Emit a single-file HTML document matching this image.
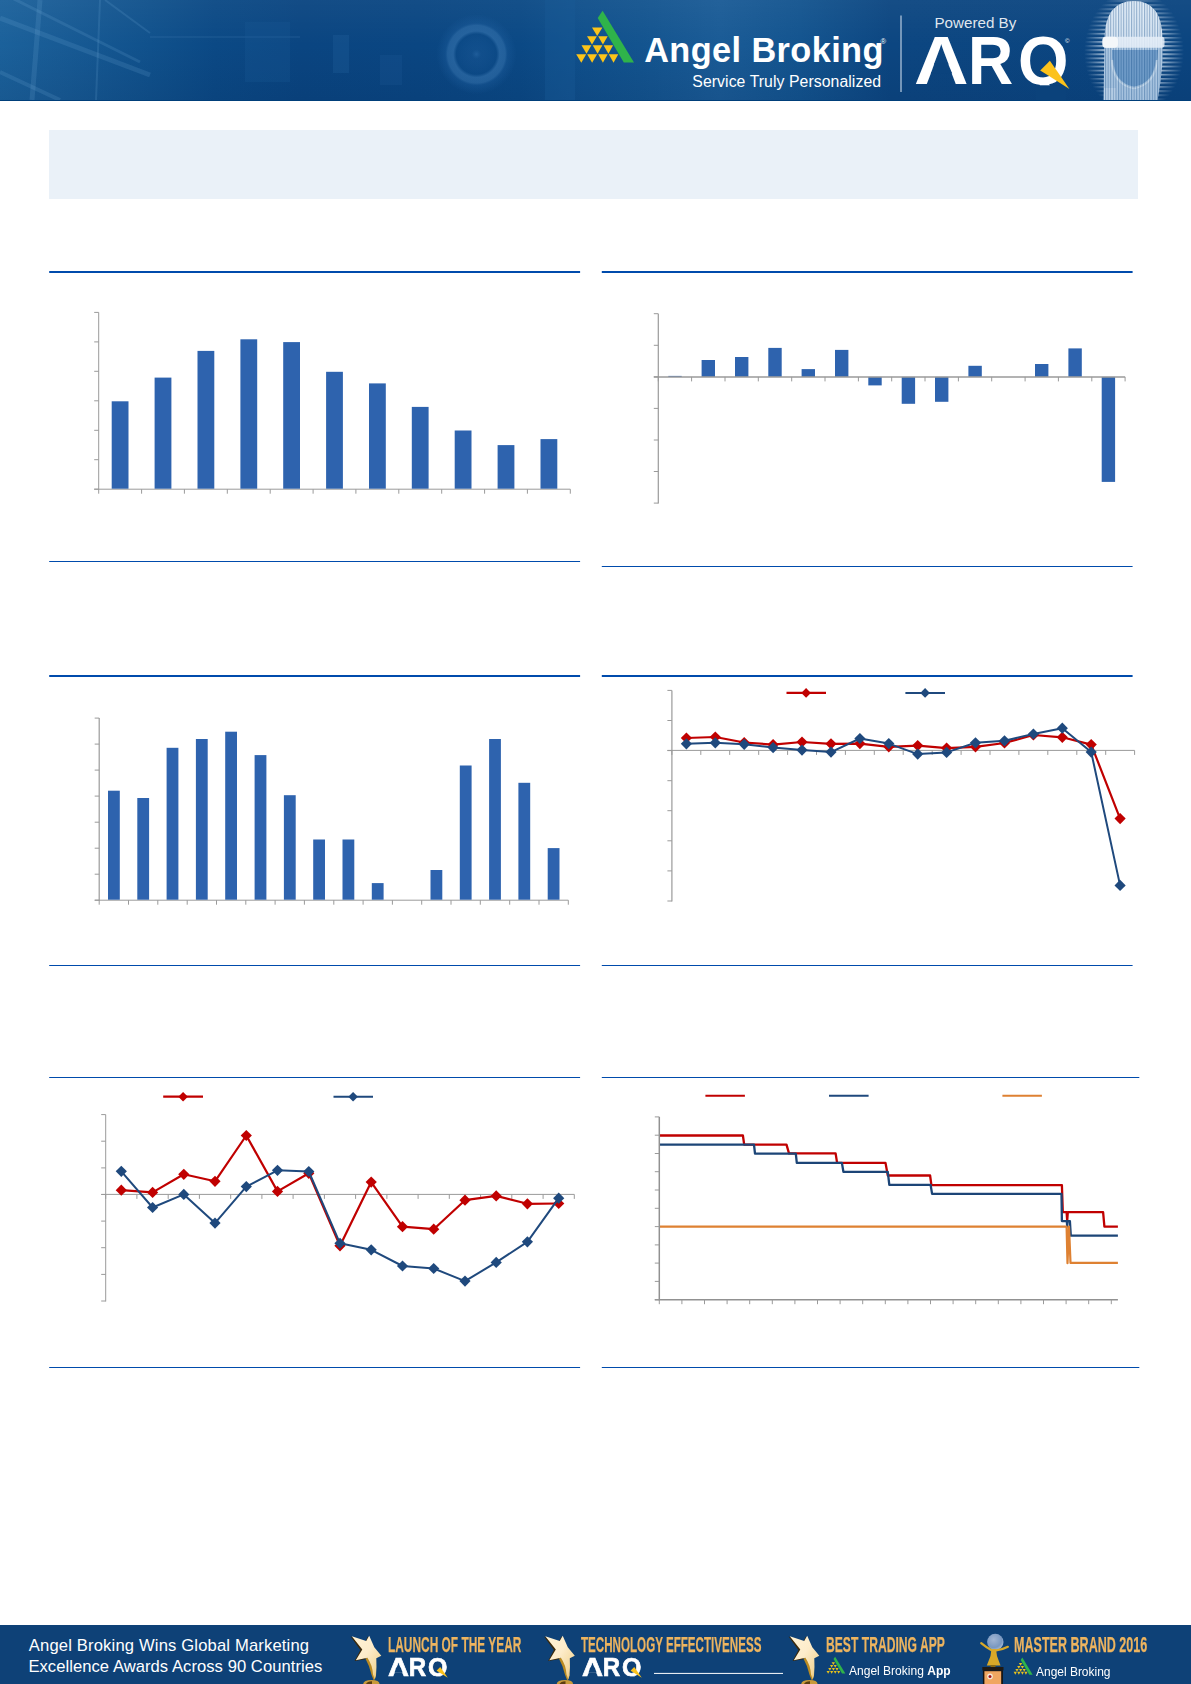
<!DOCTYPE html>
<html lang="en">
<head>
<meta charset="utf-8">
<title>Angel Broking - Powered By ARQ</title>
<style>
html,body{margin:0;padding:0;background:#fff;}
body{width:1191px;height:1684px;position:relative;overflow:hidden;font-family:"Liberation Sans",sans-serif;}
.abs{position:absolute;}
.hdr{left:0;top:0;width:1191px;height:101px;overflow:hidden;
 background:linear-gradient(180deg,rgba(255,255,255,.04) 0,rgba(255,255,255,0) 45%,rgba(0,20,60,.10) 100%),linear-gradient(90deg,#1b619b 0px,#185b95 60px,#10518c 150px,#0b4985 215px,#0a4581 300px,#0a4682 420px,#0b4985 520px,#0f4f8b 570px,#13548f 640px,#1a5b96 720px,#13548f 800px,#0c4681 890px,#0b4580 1191px);border-bottom:1px solid #003f7a;box-sizing:border-box;}
.hdr svg{position:absolute;left:0;top:0;}
.t{position:absolute;white-space:nowrap;color:#fff;line-height:1;transform-origin:0 0;}
.titlebar{left:49px;top:130px;width:1089px;height:69px;background:#EAF1F8;}
.charts{position:absolute;left:0;top:0;}
.ftr{left:0;top:1625px;width:1191px;height:59px;background:#0e4177;overflow:hidden;}
.ftr svg{position:absolute;left:0;top:0;}
.arq{position:absolute;width:170px;height:80px;font-size:67.8px;font-weight:bold;line-height:1;color:#fff;transform-origin:0 0;}
.arq span{position:absolute;top:0;display:block;transform-origin:0 0;}
.arq svg{position:absolute;left:0;top:0;overflow:visible;}
.gold{color:#EDB45F;font-weight:bold;-webkit-text-stroke:.25px #EDB45F;}
</style>
</head>
<body>
<div class="abs hdr">
<svg width="1191" height="101" viewBox="0 0 1191 101">
<defs>
<radialGradient id="lens" cx="476.4" cy="54.2" r="40" gradientUnits="userSpaceOnUse">
<stop offset="0" stop-color="#2f6fae" stop-opacity=".55"/><stop offset=".12" stop-color="#1d5c9c" stop-opacity=".35"/><stop offset=".5" stop-color="#0d4c8a" stop-opacity=".5"/><stop offset=".58" stop-color="#3a78b3" stop-opacity=".55"/><stop offset=".72" stop-color="#3a78b3" stop-opacity=".5"/><stop offset=".78" stop-color="#1f5f9f" stop-opacity=".35"/><stop offset="1" stop-color="#1f5f9f" stop-opacity="0"/>
</radialGradient>
<linearGradient id="headg" x1="0" y1="0" x2="0" y2="1">
<stop offset="0" stop-color="#e6f0fa"/><stop offset=".36" stop-color="#dbe8f5"/><stop offset=".5" stop-color="#b4cde6"/><stop offset="1" stop-color="#a9c5e1"/>
</linearGradient>
<pattern id="vstr" width="2.6" height="4" patternUnits="userSpaceOnUse"><rect x="0" y="0" width="1.1" height="4" fill="#0b4580" fill-opacity=".38"/></pattern>
<pattern id="hstr" width="8" height="4.1" patternUnits="userSpaceOnUse"><rect x="0" y="0" width="8" height="1.9" fill="#e6f0fa" fill-opacity=".7"/></pattern>
<radialGradient id="fade" cx="1134" cy="52" r="1" gradientUnits="userSpaceOnUse" gradientTransform="translate(1134 52) scale(50 62) translate(-1134 -52)">
<stop offset="0" stop-color="#fff"/><stop offset=".62" stop-color="#fff" stop-opacity=".9"/><stop offset="1" stop-color="#fff" stop-opacity="0"/>
</radialGradient>
<mask id="fm"><rect x="1080" y="0" width="111" height="100" fill="url(#fade)"/></mask>
<clipPath id="headc"><path d="M1103.5,101 L1104.5,40 Q1104.5,1 1134,1 Q1162.5,1 1162.5,40 L1162.5,62 Q1161,82 1157.5,101 Z"/></clipPath>
<g id="ablogo">
<polygon points="602.6,10.7 634,62.6 623.8,62.6 597.7,18.1" fill="#2fb34a"/>
<g fill="#fcc419">
<polygon points="592,27.5 602.4,27.5 597.2,35.9"/>
<polygon points="587,36.3 596.9,36.3 592,44.6"/><polygon points="598.2,36.3 607.7,36.3 602.9,44.6"/>
<polygon points="581.5,45.2 591.4,45.2 586.5,53.7"/><polygon points="592.7,45.2 602.4,45.2 597.6,53.7"/><polygon points="603.6,45.2 613.1,45.2 608.4,53.7"/>
<polygon points="576.2,54.2 586.2,54.2 581.3,62.8"/><polygon points="587.2,54.2 597.1,54.2 592.1,62.8"/><polygon points="598.2,54.2 607.7,54.2 602.9,62.8"/><polygon points="608.8,54.2 618.3,54.2 613.5,62.8"/>
</g>
</g>
</defs>
<!-- left grid glow -->
<g stroke="#7fb2de" stroke-opacity=".16" fill="none">
<path d="M0,18 L150,75" stroke-width="5"/><path d="M0,-8 L140,62" stroke-width="3"/><path d="M105,0 L150,33" stroke-width="2"/>
<path d="M40,0 L32,100" stroke-width="5"/><path d="M100,0 L96,100" stroke-width="2"/><path d="M0,72 L60,100" stroke-width="4"/>
<path d="M150,37 L300,37" stroke-width="1.5" stroke-opacity=".12"/>
</g>
<rect x="245" y="22" width="45" height="60" fill="#1a5a98" fill-opacity=".25"/>
<rect x="333" y="35" width="16" height="38" fill="#2766a3" fill-opacity=".25"/>
<rect x="380" y="55" width="22" height="30" fill="#2766a3" fill-opacity=".18"/>
<circle cx="476.4" cy="54.2" r="40" fill="url(#lens)"/>
<rect x="545" y="0" width="30" height="100" fill="#1a5b99" fill-opacity=".35"/>
<!-- logo -->
<use href="#ablogo"/>
<!-- divider -->
<rect x="900.2" y="15.5" width="1.6" height="76.5" fill="#8eabc9"/>
<!-- face -->
<g mask="url(#fm)"><rect x="1084" y="0" width="100" height="101" fill="url(#hstr)"/></g>
<g clip-path="url(#headc)">
<rect x="1100" y="0" width="70" height="101" fill="url(#headg)"/>
<path d="M1112,50 Q1111,84 1134,88 Q1157,84 1158,50 Z" fill="#3f7ab4" fill-opacity=".55"/>
<path d="M1112,60 Q1113,84 1134,88 Q1155,84 1157,60" fill="none" stroke="#e4eef8" stroke-opacity=".55" stroke-width="2.5"/>
<rect x="1104" y="88" width="12" height="13" fill="#e4eef8" fill-opacity=".35"/>
<rect x="1100" y="0" width="70" height="101" fill="url(#vstr)"/>
</g>
<rect x="1102.5" y="36.8" width="62" height="11" rx="3" fill="#e6eff8" fill-opacity=".85"/>
<rect x="1102.5" y="36.8" width="15.5" height="11" rx="4" fill="#f4f7fa"/>
</svg>

<div class="t" id="ab" style="left:644.2px;top:32.9px;font-size:34.3px;font-weight:bold;letter-spacing:.4px;">Angel Broking</div>
<div class="t" id="abr" style="left:880.5px;top:37.5px;font-size:7.5px;">®</div>
<div class="t" id="stp" style="left:692.3px;top:74.1px;font-size:15.8px;letter-spacing:.07px;">Service Truly Personalized</div>
<div class="t" id="pb" style="left:934.4px;top:15.3px;font-size:15.2px;color:rgba(255,255,255,.88);">Powered By</div>
<div class="arq" id="arq" style="left:914.1px;top:26.9px;"><span style="left:0;transform:scaleX(1.114);">A</span><span style="left:53.8px;transform:scaleX(.923);">R</span><span style="left:103.8px;transform:scaleX(.957);">Q</span><svg width="170" height="80" viewBox="0 0 170 80"><polygon points="20.4,36.4 34,36.4 38.2,46.6 16.8,46.6" fill="#0b437d"/><rect x="122" y="58.3" width="30" height="15" fill="#0b427b"/><polygon points="135.9,33.7 126.2,43.4 131.9,47.1 155.4,62" fill="#fcc21b"/></svg></div>
<div class="t" id="arqr" style="left:1065px;top:38px;font-size:6px;">©</div>
</div>
<div class="abs titlebar"></div>
<svg class="charts" width="1191" height="1684" viewBox="0 0 1191 1684">
<line x1="49.2" y1="272" x2="580.1" y2="272" stroke="#004BAC" stroke-width="2"/>
<line x1="49.2" y1="561.5" x2="580.1" y2="561.5" stroke="#004BAC" stroke-width="1"/>
<line x1="601.8" y1="272" x2="1132.6" y2="272" stroke="#004BAC" stroke-width="2"/>
<line x1="601.8" y1="566.5" x2="1132.6" y2="566.5" stroke="#004BAC" stroke-width="1"/>
<line x1="49.2" y1="676" x2="580.1" y2="676" stroke="#004BAC" stroke-width="2"/>
<line x1="49.2" y1="965.5" x2="580.1" y2="965.5" stroke="#004BAC" stroke-width="1"/>
<line x1="601.8" y1="676" x2="1132.6" y2="676" stroke="#004BAC" stroke-width="2"/>
<line x1="601.8" y1="965.5" x2="1132.6" y2="965.5" stroke="#004BAC" stroke-width="1"/>
<line x1="49.2" y1="1077.5" x2="580.1" y2="1077.5" stroke="#004BAC" stroke-width="1"/>
<line x1="49.2" y1="1367.5" x2="580.1" y2="1367.5" stroke="#004BAC" stroke-width="1"/>
<line x1="601.8" y1="1077.5" x2="1139.3" y2="1077.5" stroke="#004BAC" stroke-width="1"/>
<line x1="601.8" y1="1367.5" x2="1139.3" y2="1367.5" stroke="#004BAC" stroke-width="1"/>
<line x1="98.7" y1="312.4" x2="98.7" y2="489.7" stroke="#9a9a9a" stroke-width="1"/>
<line x1="94.2" y1="489.2" x2="570.3" y2="489.2" stroke="#9a9a9a" stroke-width="1"/>
<line x1="94.2" y1="312.4" x2="98.7" y2="312.4" stroke="#9a9a9a" stroke-width="1"/>
<line x1="94.2" y1="341.9" x2="98.7" y2="341.9" stroke="#9a9a9a" stroke-width="1"/>
<line x1="94.2" y1="371.3" x2="98.7" y2="371.3" stroke="#9a9a9a" stroke-width="1"/>
<line x1="94.2" y1="400.8" x2="98.7" y2="400.8" stroke="#9a9a9a" stroke-width="1"/>
<line x1="94.2" y1="430.3" x2="98.7" y2="430.3" stroke="#9a9a9a" stroke-width="1"/>
<line x1="94.2" y1="459.7" x2="98.7" y2="459.7" stroke="#9a9a9a" stroke-width="1"/>
<line x1="94.2" y1="489.2" x2="98.7" y2="489.2" stroke="#9a9a9a" stroke-width="1"/>
<line x1="98.7" y1="489.2" x2="98.7" y2="493.7" stroke="#9a9a9a" stroke-width="1"/>
<line x1="141.6" y1="489.2" x2="141.6" y2="493.7" stroke="#9a9a9a" stroke-width="1"/>
<line x1="184.4" y1="489.2" x2="184.4" y2="493.7" stroke="#9a9a9a" stroke-width="1"/>
<line x1="227.3" y1="489.2" x2="227.3" y2="493.7" stroke="#9a9a9a" stroke-width="1"/>
<line x1="270.2" y1="489.2" x2="270.2" y2="493.7" stroke="#9a9a9a" stroke-width="1"/>
<line x1="313.1" y1="489.2" x2="313.1" y2="493.7" stroke="#9a9a9a" stroke-width="1"/>
<line x1="355.9" y1="489.2" x2="355.9" y2="493.7" stroke="#9a9a9a" stroke-width="1"/>
<line x1="398.8" y1="489.2" x2="398.8" y2="493.7" stroke="#9a9a9a" stroke-width="1"/>
<line x1="441.7" y1="489.2" x2="441.7" y2="493.7" stroke="#9a9a9a" stroke-width="1"/>
<line x1="484.6" y1="489.2" x2="484.6" y2="493.7" stroke="#9a9a9a" stroke-width="1"/>
<line x1="527.4" y1="489.2" x2="527.4" y2="493.7" stroke="#9a9a9a" stroke-width="1"/>
<line x1="570.3" y1="489.2" x2="570.3" y2="493.7" stroke="#9a9a9a" stroke-width="1"/>
<rect x="111.7" y="401.3" width="16.8" height="87.4" fill="#2E63AE"/>
<rect x="154.6" y="377.6" width="16.8" height="111.1" fill="#2E63AE"/>
<rect x="197.5" y="350.9" width="16.8" height="137.8" fill="#2E63AE"/>
<rect x="240.4" y="339.3" width="16.8" height="149.4" fill="#2E63AE"/>
<rect x="283.2" y="342.1" width="16.8" height="146.6" fill="#2E63AE"/>
<rect x="326.1" y="371.8" width="16.8" height="116.9" fill="#2E63AE"/>
<rect x="369.0" y="383.4" width="16.8" height="105.3" fill="#2E63AE"/>
<rect x="411.8" y="406.9" width="16.8" height="81.8" fill="#2E63AE"/>
<rect x="454.7" y="430.5" width="16.8" height="58.2" fill="#2E63AE"/>
<rect x="497.6" y="445.1" width="16.8" height="43.6" fill="#2E63AE"/>
<rect x="540.5" y="439.1" width="16.8" height="49.6" fill="#2E63AE"/>
<rect x="668.3" y="375.9" width="13.4" height="1.0" fill="#2E63AE"/>
<rect x="701.6" y="360.0" width="13.4" height="16.9" fill="#2E63AE"/>
<rect x="735.0" y="357.0" width="13.4" height="19.9" fill="#2E63AE"/>
<rect x="768.3" y="347.9" width="13.4" height="29.0" fill="#2E63AE"/>
<rect x="801.6" y="369.1" width="13.4" height="7.8" fill="#2E63AE"/>
<rect x="835.0" y="349.9" width="13.4" height="27.0" fill="#2E63AE"/>
<rect x="868.3" y="376.9" width="13.4" height="8.5" fill="#2E63AE"/>
<rect x="901.7" y="376.9" width="13.4" height="26.9" fill="#2E63AE"/>
<rect x="935.0" y="376.9" width="13.4" height="24.9" fill="#2E63AE"/>
<rect x="968.4" y="365.8" width="13.4" height="11.1" fill="#2E63AE"/>
<rect x="1035.0" y="364.0" width="13.4" height="12.9" fill="#2E63AE"/>
<rect x="1068.4" y="348.4" width="13.4" height="28.5" fill="#2E63AE"/>
<rect x="1101.7" y="376.9" width="13.4" height="105.0" fill="#2E63AE"/>
<line x1="658.3" y1="313.7" x2="658.3" y2="503.6" stroke="#9a9a9a" stroke-width="1.2"/>
<line x1="653.8" y1="376.9" x2="1125.1" y2="376.9" stroke="#9a9a9a" stroke-width="1.5"/>
<line x1="653.8" y1="313.7" x2="658.3" y2="313.7" stroke="#9a9a9a" stroke-width="1"/>
<line x1="653.8" y1="345.3" x2="658.3" y2="345.3" stroke="#9a9a9a" stroke-width="1"/>
<line x1="653.8" y1="376.8" x2="658.3" y2="376.8" stroke="#9a9a9a" stroke-width="1"/>
<line x1="653.8" y1="408.4" x2="658.3" y2="408.4" stroke="#9a9a9a" stroke-width="1"/>
<line x1="653.8" y1="440.0" x2="658.3" y2="440.0" stroke="#9a9a9a" stroke-width="1"/>
<line x1="653.8" y1="471.5" x2="658.3" y2="471.5" stroke="#9a9a9a" stroke-width="1"/>
<line x1="653.8" y1="503.1" x2="658.3" y2="503.1" stroke="#9a9a9a" stroke-width="1"/>
<line x1="658.3" y1="376.9" x2="658.3" y2="381.4" stroke="#9a9a9a" stroke-width="1"/>
<line x1="691.6" y1="376.9" x2="691.6" y2="381.4" stroke="#9a9a9a" stroke-width="1"/>
<line x1="725.0" y1="376.9" x2="725.0" y2="381.4" stroke="#9a9a9a" stroke-width="1"/>
<line x1="758.3" y1="376.9" x2="758.3" y2="381.4" stroke="#9a9a9a" stroke-width="1"/>
<line x1="791.7" y1="376.9" x2="791.7" y2="381.4" stroke="#9a9a9a" stroke-width="1"/>
<line x1="825.0" y1="376.9" x2="825.0" y2="381.4" stroke="#9a9a9a" stroke-width="1"/>
<line x1="858.4" y1="376.9" x2="858.4" y2="381.4" stroke="#9a9a9a" stroke-width="1"/>
<line x1="891.7" y1="376.9" x2="891.7" y2="381.4" stroke="#9a9a9a" stroke-width="1"/>
<line x1="925.0" y1="376.9" x2="925.0" y2="381.4" stroke="#9a9a9a" stroke-width="1"/>
<line x1="958.4" y1="376.9" x2="958.4" y2="381.4" stroke="#9a9a9a" stroke-width="1"/>
<line x1="991.7" y1="376.9" x2="991.7" y2="381.4" stroke="#9a9a9a" stroke-width="1"/>
<line x1="1025.1" y1="376.9" x2="1025.1" y2="381.4" stroke="#9a9a9a" stroke-width="1"/>
<line x1="1058.4" y1="376.9" x2="1058.4" y2="381.4" stroke="#9a9a9a" stroke-width="1"/>
<line x1="1091.8" y1="376.9" x2="1091.8" y2="381.4" stroke="#9a9a9a" stroke-width="1"/>
<line x1="1125.1" y1="376.9" x2="1125.1" y2="381.4" stroke="#9a9a9a" stroke-width="1"/>
<line x1="99.2" y1="718.1" x2="99.2" y2="900.7" stroke="#9a9a9a" stroke-width="1.2"/>
<line x1="94.7" y1="900.2" x2="568.3" y2="900.2" stroke="#9a9a9a" stroke-width="1"/>
<line x1="94.7" y1="718.1" x2="99.2" y2="718.1" stroke="#9a9a9a" stroke-width="1"/>
<line x1="94.7" y1="744.1" x2="99.2" y2="744.1" stroke="#9a9a9a" stroke-width="1"/>
<line x1="94.7" y1="770.1" x2="99.2" y2="770.1" stroke="#9a9a9a" stroke-width="1"/>
<line x1="94.7" y1="796.1" x2="99.2" y2="796.1" stroke="#9a9a9a" stroke-width="1"/>
<line x1="94.7" y1="822.2" x2="99.2" y2="822.2" stroke="#9a9a9a" stroke-width="1"/>
<line x1="94.7" y1="848.2" x2="99.2" y2="848.2" stroke="#9a9a9a" stroke-width="1"/>
<line x1="94.7" y1="874.2" x2="99.2" y2="874.2" stroke="#9a9a9a" stroke-width="1"/>
<line x1="94.7" y1="900.2" x2="99.2" y2="900.2" stroke="#9a9a9a" stroke-width="1"/>
<line x1="99.2" y1="900.2" x2="99.2" y2="904.7" stroke="#9a9a9a" stroke-width="1"/>
<line x1="128.5" y1="900.2" x2="128.5" y2="904.7" stroke="#9a9a9a" stroke-width="1"/>
<line x1="157.8" y1="900.2" x2="157.8" y2="904.7" stroke="#9a9a9a" stroke-width="1"/>
<line x1="187.2" y1="900.2" x2="187.2" y2="904.7" stroke="#9a9a9a" stroke-width="1"/>
<line x1="216.5" y1="900.2" x2="216.5" y2="904.7" stroke="#9a9a9a" stroke-width="1"/>
<line x1="245.8" y1="900.2" x2="245.8" y2="904.7" stroke="#9a9a9a" stroke-width="1"/>
<line x1="275.1" y1="900.2" x2="275.1" y2="904.7" stroke="#9a9a9a" stroke-width="1"/>
<line x1="304.4" y1="900.2" x2="304.4" y2="904.7" stroke="#9a9a9a" stroke-width="1"/>
<line x1="333.8" y1="900.2" x2="333.8" y2="904.7" stroke="#9a9a9a" stroke-width="1"/>
<line x1="363.1" y1="900.2" x2="363.1" y2="904.7" stroke="#9a9a9a" stroke-width="1"/>
<line x1="392.4" y1="900.2" x2="392.4" y2="904.7" stroke="#9a9a9a" stroke-width="1"/>
<line x1="421.7" y1="900.2" x2="421.7" y2="904.7" stroke="#9a9a9a" stroke-width="1"/>
<line x1="451.0" y1="900.2" x2="451.0" y2="904.7" stroke="#9a9a9a" stroke-width="1"/>
<line x1="480.3" y1="900.2" x2="480.3" y2="904.7" stroke="#9a9a9a" stroke-width="1"/>
<line x1="509.7" y1="900.2" x2="509.7" y2="904.7" stroke="#9a9a9a" stroke-width="1"/>
<line x1="539.0" y1="900.2" x2="539.0" y2="904.7" stroke="#9a9a9a" stroke-width="1"/>
<line x1="568.3" y1="900.2" x2="568.3" y2="904.7" stroke="#9a9a9a" stroke-width="1"/>
<rect x="108.0" y="790.7" width="11.8" height="109.0" fill="#2E63AE"/>
<rect x="137.3" y="798.0" width="11.8" height="101.7" fill="#2E63AE"/>
<rect x="166.6" y="747.8" width="11.8" height="151.9" fill="#2E63AE"/>
<rect x="195.9" y="739.0" width="11.8" height="160.7" fill="#2E63AE"/>
<rect x="225.2" y="731.7" width="11.8" height="168.0" fill="#2E63AE"/>
<rect x="254.6" y="755.1" width="11.8" height="144.6" fill="#2E63AE"/>
<rect x="283.9" y="795.2" width="11.8" height="104.5" fill="#2E63AE"/>
<rect x="313.2" y="839.5" width="11.8" height="60.2" fill="#2E63AE"/>
<rect x="342.5" y="839.5" width="11.8" height="60.2" fill="#2E63AE"/>
<rect x="371.8" y="883.1" width="11.8" height="16.6" fill="#2E63AE"/>
<rect x="430.5" y="870.0" width="11.8" height="29.7" fill="#2E63AE"/>
<rect x="459.8" y="765.5" width="11.8" height="134.2" fill="#2E63AE"/>
<rect x="489.1" y="739.0" width="11.8" height="160.7" fill="#2E63AE"/>
<rect x="518.4" y="782.8" width="11.8" height="116.9" fill="#2E63AE"/>
<rect x="547.7" y="848.1" width="11.8" height="51.6" fill="#2E63AE"/>
<line x1="671.9" y1="690.4" x2="671.9" y2="901.5" stroke="#9a9a9a" stroke-width="1.2"/>
<line x1="667.4" y1="750.4" x2="1134.6" y2="750.4" stroke="#9a9a9a" stroke-width="1"/>
<line x1="667.4" y1="690.4" x2="671.9" y2="690.4" stroke="#9a9a9a" stroke-width="1"/>
<line x1="667.4" y1="720.5" x2="671.9" y2="720.5" stroke="#9a9a9a" stroke-width="1"/>
<line x1="667.4" y1="750.6" x2="671.9" y2="750.6" stroke="#9a9a9a" stroke-width="1"/>
<line x1="667.4" y1="780.7" x2="671.9" y2="780.7" stroke="#9a9a9a" stroke-width="1"/>
<line x1="667.4" y1="810.7" x2="671.9" y2="810.7" stroke="#9a9a9a" stroke-width="1"/>
<line x1="667.4" y1="840.8" x2="671.9" y2="840.8" stroke="#9a9a9a" stroke-width="1"/>
<line x1="667.4" y1="870.9" x2="671.9" y2="870.9" stroke="#9a9a9a" stroke-width="1"/>
<line x1="667.4" y1="901.0" x2="671.9" y2="901.0" stroke="#9a9a9a" stroke-width="1"/>
<line x1="671.9" y1="750.4" x2="671.9" y2="754.9" stroke="#9a9a9a" stroke-width="1"/>
<line x1="700.8" y1="750.4" x2="700.8" y2="754.9" stroke="#9a9a9a" stroke-width="1"/>
<line x1="729.7" y1="750.4" x2="729.7" y2="754.9" stroke="#9a9a9a" stroke-width="1"/>
<line x1="758.7" y1="750.4" x2="758.7" y2="754.9" stroke="#9a9a9a" stroke-width="1"/>
<line x1="787.6" y1="750.4" x2="787.6" y2="754.9" stroke="#9a9a9a" stroke-width="1"/>
<line x1="816.5" y1="750.4" x2="816.5" y2="754.9" stroke="#9a9a9a" stroke-width="1"/>
<line x1="845.4" y1="750.4" x2="845.4" y2="754.9" stroke="#9a9a9a" stroke-width="1"/>
<line x1="874.3" y1="750.4" x2="874.3" y2="754.9" stroke="#9a9a9a" stroke-width="1"/>
<line x1="903.2" y1="750.4" x2="903.2" y2="754.9" stroke="#9a9a9a" stroke-width="1"/>
<line x1="932.2" y1="750.4" x2="932.2" y2="754.9" stroke="#9a9a9a" stroke-width="1"/>
<line x1="961.1" y1="750.4" x2="961.1" y2="754.9" stroke="#9a9a9a" stroke-width="1"/>
<line x1="990.0" y1="750.4" x2="990.0" y2="754.9" stroke="#9a9a9a" stroke-width="1"/>
<line x1="1018.9" y1="750.4" x2="1018.9" y2="754.9" stroke="#9a9a9a" stroke-width="1"/>
<line x1="1047.8" y1="750.4" x2="1047.8" y2="754.9" stroke="#9a9a9a" stroke-width="1"/>
<line x1="1076.8" y1="750.4" x2="1076.8" y2="754.9" stroke="#9a9a9a" stroke-width="1"/>
<line x1="1105.7" y1="750.4" x2="1105.7" y2="754.9" stroke="#9a9a9a" stroke-width="1"/>
<line x1="1134.6" y1="750.4" x2="1134.6" y2="754.9" stroke="#9a9a9a" stroke-width="1"/>
<polyline points="686.4,738.0 715.3,737.0 744.2,742.5 773.1,744.6 802.0,742.0 831.0,743.8 859.9,743.6 888.8,746.8 917.7,745.6 946.6,748.1 975.5,746.8 1004.5,743.0 1033.4,735.0 1062.3,737.3 1091.2,744.6 1120.1,818.6" fill="none" stroke="#C00000" stroke-width="2.2" stroke-linejoin="round"/>
<polygon points="686.4,732.4 692.0,738.0 686.4,743.6 680.8,738.0" fill="#C00000"/>
<polygon points="715.3,731.4 720.9,737.0 715.3,742.6 709.7,737.0" fill="#C00000"/>
<polygon points="744.2,736.9 749.8,742.5 744.2,748.1 738.6,742.5" fill="#C00000"/>
<polygon points="773.1,739.0 778.7,744.6 773.1,750.2 767.5,744.6" fill="#C00000"/>
<polygon points="802.0,736.4 807.6,742.0 802.0,747.6 796.4,742.0" fill="#C00000"/>
<polygon points="831.0,738.2 836.6,743.8 831.0,749.4 825.4,743.8" fill="#C00000"/>
<polygon points="859.9,738.0 865.5,743.6 859.9,749.2 854.3,743.6" fill="#C00000"/>
<polygon points="888.8,741.2 894.4,746.8 888.8,752.4 883.2,746.8" fill="#C00000"/>
<polygon points="917.7,740.0 923.3,745.6 917.7,751.2 912.1,745.6" fill="#C00000"/>
<polygon points="946.6,742.5 952.2,748.1 946.6,753.7 941.0,748.1" fill="#C00000"/>
<polygon points="975.5,741.2 981.1,746.8 975.5,752.4 969.9,746.8" fill="#C00000"/>
<polygon points="1004.5,737.4 1010.1,743.0 1004.5,748.6 998.9,743.0" fill="#C00000"/>
<polygon points="1033.4,729.4 1039.0,735.0 1033.4,740.6 1027.8,735.0" fill="#C00000"/>
<polygon points="1062.3,731.7 1067.9,737.3 1062.3,742.9 1056.7,737.3" fill="#C00000"/>
<polygon points="1091.2,739.0 1096.8,744.6 1091.2,750.2 1085.6,744.6" fill="#C00000"/>
<polygon points="1120.1,813.0 1125.7,818.6 1120.1,824.2 1114.5,818.6" fill="#C00000"/>
<polyline points="686.4,743.8 715.3,742.8 744.2,744.3 773.1,747.6 802.0,750.1 831.0,752.1 859.9,738.5 888.8,743.6 917.7,754.1 946.6,752.4 975.5,742.8 1004.5,740.8 1033.4,734.0 1062.3,728.2 1091.2,752.1 1120.1,885.4" fill="none" stroke="#1F497D" stroke-width="2" stroke-linejoin="round"/>
<polygon points="686.4,738.2 692.0,743.8 686.4,749.4 680.8,743.8" fill="#1F497D"/>
<polygon points="715.3,737.2 720.9,742.8 715.3,748.4 709.7,742.8" fill="#1F497D"/>
<polygon points="744.2,738.7 749.8,744.3 744.2,749.9 738.6,744.3" fill="#1F497D"/>
<polygon points="773.1,742.0 778.7,747.6 773.1,753.2 767.5,747.6" fill="#1F497D"/>
<polygon points="802.0,744.5 807.6,750.1 802.0,755.7 796.4,750.1" fill="#1F497D"/>
<polygon points="831.0,746.5 836.6,752.1 831.0,757.7 825.4,752.1" fill="#1F497D"/>
<polygon points="859.9,732.9 865.5,738.5 859.9,744.1 854.3,738.5" fill="#1F497D"/>
<polygon points="888.8,738.0 894.4,743.6 888.8,749.2 883.2,743.6" fill="#1F497D"/>
<polygon points="917.7,748.5 923.3,754.1 917.7,759.7 912.1,754.1" fill="#1F497D"/>
<polygon points="946.6,746.8 952.2,752.4 946.6,758.0 941.0,752.4" fill="#1F497D"/>
<polygon points="975.5,737.2 981.1,742.8 975.5,748.4 969.9,742.8" fill="#1F497D"/>
<polygon points="1004.5,735.2 1010.1,740.8 1004.5,746.4 998.9,740.8" fill="#1F497D"/>
<polygon points="1033.4,728.4 1039.0,734.0 1033.4,739.6 1027.8,734.0" fill="#1F497D"/>
<polygon points="1062.3,722.6 1067.9,728.2 1062.3,733.8 1056.7,728.2" fill="#1F497D"/>
<polygon points="1091.2,746.5 1096.8,752.1 1091.2,757.7 1085.6,752.1" fill="#1F497D"/>
<polygon points="1120.1,879.8 1125.7,885.4 1120.1,891.0 1114.5,885.4" fill="#1F497D"/>
<line x1="786.5" y1="692.9" x2="826.0" y2="692.9" stroke="#C00000" stroke-width="2.2"/>
<polygon points="806.1,688.1 810.9,692.9 806.1,697.7 801.3,692.9" fill="#C00000"/>
<line x1="905.4" y1="692.9" x2="945.0" y2="692.9" stroke="#1F497D" stroke-width="2"/>
<polygon points="925.1,688.1 929.9,692.9 925.1,697.7 920.3,692.9" fill="#1F497D"/>
<line x1="105.7" y1="1114.6" x2="105.7" y2="1301.5" stroke="#9a9a9a" stroke-width="1"/>
<line x1="101.2" y1="1194.4" x2="574.3" y2="1194.4" stroke="#9a9a9a" stroke-width="1"/>
<line x1="101.2" y1="1114.6" x2="105.7" y2="1114.6" stroke="#9a9a9a" stroke-width="1"/>
<line x1="101.2" y1="1141.2" x2="105.7" y2="1141.2" stroke="#9a9a9a" stroke-width="1"/>
<line x1="101.2" y1="1167.9" x2="105.7" y2="1167.9" stroke="#9a9a9a" stroke-width="1"/>
<line x1="101.2" y1="1194.5" x2="105.7" y2="1194.5" stroke="#9a9a9a" stroke-width="1"/>
<line x1="101.2" y1="1221.1" x2="105.7" y2="1221.1" stroke="#9a9a9a" stroke-width="1"/>
<line x1="101.2" y1="1247.7" x2="105.7" y2="1247.7" stroke="#9a9a9a" stroke-width="1"/>
<line x1="101.2" y1="1274.4" x2="105.7" y2="1274.4" stroke="#9a9a9a" stroke-width="1"/>
<line x1="101.2" y1="1301.0" x2="105.7" y2="1301.0" stroke="#9a9a9a" stroke-width="1"/>
<line x1="105.7" y1="1194.4" x2="105.7" y2="1198.9" stroke="#9a9a9a" stroke-width="1"/>
<line x1="136.9" y1="1194.4" x2="136.9" y2="1198.9" stroke="#9a9a9a" stroke-width="1"/>
<line x1="168.2" y1="1194.4" x2="168.2" y2="1198.9" stroke="#9a9a9a" stroke-width="1"/>
<line x1="199.4" y1="1194.4" x2="199.4" y2="1198.9" stroke="#9a9a9a" stroke-width="1"/>
<line x1="230.7" y1="1194.4" x2="230.7" y2="1198.9" stroke="#9a9a9a" stroke-width="1"/>
<line x1="261.9" y1="1194.4" x2="261.9" y2="1198.9" stroke="#9a9a9a" stroke-width="1"/>
<line x1="293.1" y1="1194.4" x2="293.1" y2="1198.9" stroke="#9a9a9a" stroke-width="1"/>
<line x1="324.4" y1="1194.4" x2="324.4" y2="1198.9" stroke="#9a9a9a" stroke-width="1"/>
<line x1="355.6" y1="1194.4" x2="355.6" y2="1198.9" stroke="#9a9a9a" stroke-width="1"/>
<line x1="386.9" y1="1194.4" x2="386.9" y2="1198.9" stroke="#9a9a9a" stroke-width="1"/>
<line x1="418.1" y1="1194.4" x2="418.1" y2="1198.9" stroke="#9a9a9a" stroke-width="1"/>
<line x1="449.3" y1="1194.4" x2="449.3" y2="1198.9" stroke="#9a9a9a" stroke-width="1"/>
<line x1="480.6" y1="1194.4" x2="480.6" y2="1198.9" stroke="#9a9a9a" stroke-width="1"/>
<line x1="511.8" y1="1194.4" x2="511.8" y2="1198.9" stroke="#9a9a9a" stroke-width="1"/>
<line x1="543.1" y1="1194.4" x2="543.1" y2="1198.9" stroke="#9a9a9a" stroke-width="1"/>
<line x1="574.3" y1="1194.4" x2="574.3" y2="1198.9" stroke="#9a9a9a" stroke-width="1"/>
<polyline points="121.3,1190.2 152.6,1192.4 183.8,1174.3 215.0,1181.3 246.3,1135.5 277.5,1191.4 308.8,1173.3 340.0,1245.8 371.2,1182.1 402.5,1226.7 433.7,1229.2 465.0,1200.2 496.2,1195.9 527.4,1203.8 558.7,1203.5" fill="none" stroke="#C00000" stroke-width="2.2" stroke-linejoin="round"/>
<polygon points="121.3,1184.6 126.9,1190.2 121.3,1195.8 115.7,1190.2" fill="#C00000"/>
<polygon points="152.6,1186.8 158.2,1192.4 152.6,1198.0 147.0,1192.4" fill="#C00000"/>
<polygon points="183.8,1168.7 189.4,1174.3 183.8,1179.9 178.2,1174.3" fill="#C00000"/>
<polygon points="215.0,1175.7 220.6,1181.3 215.0,1186.9 209.4,1181.3" fill="#C00000"/>
<polygon points="246.3,1129.9 251.9,1135.5 246.3,1141.1 240.7,1135.5" fill="#C00000"/>
<polygon points="277.5,1185.8 283.1,1191.4 277.5,1197.0 271.9,1191.4" fill="#C00000"/>
<polygon points="308.8,1167.7 314.4,1173.3 308.8,1178.9 303.2,1173.3" fill="#C00000"/>
<polygon points="340.0,1240.2 345.6,1245.8 340.0,1251.4 334.4,1245.8" fill="#C00000"/>
<polygon points="371.2,1176.5 376.8,1182.1 371.2,1187.7 365.6,1182.1" fill="#C00000"/>
<polygon points="402.5,1221.1 408.1,1226.7 402.5,1232.3 396.9,1226.7" fill="#C00000"/>
<polygon points="433.7,1223.6 439.3,1229.2 433.7,1234.8 428.1,1229.2" fill="#C00000"/>
<polygon points="465.0,1194.6 470.6,1200.2 465.0,1205.8 459.4,1200.2" fill="#C00000"/>
<polygon points="496.2,1190.3 501.8,1195.9 496.2,1201.5 490.6,1195.9" fill="#C00000"/>
<polygon points="527.4,1198.2 533.0,1203.8 527.4,1209.4 521.8,1203.8" fill="#C00000"/>
<polygon points="558.7,1197.9 564.3,1203.5 558.7,1209.1 553.1,1203.5" fill="#C00000"/>
<polyline points="121.3,1171.3 152.6,1207.5 183.8,1194.4 215.0,1223.1 246.3,1186.6 277.5,1170.3 308.8,1171.5 340.0,1243.3 371.2,1249.8 402.5,1266.0 433.7,1268.5 465.0,1281.1 496.2,1262.4 527.4,1241.8 558.7,1198.2" fill="none" stroke="#1F497D" stroke-width="2" stroke-linejoin="round"/>
<polygon points="121.3,1165.7 126.9,1171.3 121.3,1176.9 115.7,1171.3" fill="#1F497D"/>
<polygon points="152.6,1201.9 158.2,1207.5 152.6,1213.1 147.0,1207.5" fill="#1F497D"/>
<polygon points="183.8,1188.8 189.4,1194.4 183.8,1200.0 178.2,1194.4" fill="#1F497D"/>
<polygon points="215.0,1217.5 220.6,1223.1 215.0,1228.7 209.4,1223.1" fill="#1F497D"/>
<polygon points="246.3,1181.0 251.9,1186.6 246.3,1192.2 240.7,1186.6" fill="#1F497D"/>
<polygon points="277.5,1164.7 283.1,1170.3 277.5,1175.9 271.9,1170.3" fill="#1F497D"/>
<polygon points="308.8,1165.9 314.4,1171.5 308.8,1177.1 303.2,1171.5" fill="#1F497D"/>
<polygon points="340.0,1237.7 345.6,1243.3 340.0,1248.9 334.4,1243.3" fill="#1F497D"/>
<polygon points="371.2,1244.2 376.8,1249.8 371.2,1255.4 365.6,1249.8" fill="#1F497D"/>
<polygon points="402.5,1260.4 408.1,1266.0 402.5,1271.6 396.9,1266.0" fill="#1F497D"/>
<polygon points="433.7,1262.9 439.3,1268.5 433.7,1274.1 428.1,1268.5" fill="#1F497D"/>
<polygon points="465.0,1275.5 470.6,1281.1 465.0,1286.7 459.4,1281.1" fill="#1F497D"/>
<polygon points="496.2,1256.8 501.8,1262.4 496.2,1268.0 490.6,1262.4" fill="#1F497D"/>
<polygon points="527.4,1236.2 533.0,1241.8 527.4,1247.4 521.8,1241.8" fill="#1F497D"/>
<polygon points="558.7,1192.6 564.3,1198.2 558.7,1203.8 553.1,1198.2" fill="#1F497D"/>
<line x1="163.2" y1="1096.7" x2="203.0" y2="1096.7" stroke="#C00000" stroke-width="2.2"/>
<polygon points="183.1,1091.9 187.9,1096.7 183.1,1101.5 178.3,1096.7" fill="#C00000"/>
<line x1="333.5" y1="1096.7" x2="373.0" y2="1096.7" stroke="#1F497D" stroke-width="2"/>
<polygon points="353.1,1091.9 357.9,1096.7 353.1,1101.5 348.3,1096.7" fill="#1F497D"/>
<polyline points="659.3,1135.5 742.9,1135.5 744.2,1144.6 786.5,1144.6 789.0,1153.4 835.6,1153.4 837.1,1162.9 885.5,1162.9 887.8,1175.5 930.1,1175.5 931.4,1185.1 1061.9,1185.1 1062.8,1212.2 1066.6,1212.2 1067.2,1220.7 1067.8,1212.2 1103.1,1212.2 1104.4,1226.7 1117.9,1226.7" fill="none" stroke="#C00000" stroke-width="2.3" stroke-linejoin="round"/>
<polyline points="659.3,1144.6 754.0,1144.6 755.0,1153.6 795.8,1153.6 796.8,1162.9 841.9,1162.9 843.4,1171.8 887.8,1171.8 889.3,1184.9 930.6,1184.9 932.1,1193.9 1061.5,1193.9 1061.9,1221.1 1066.8,1221.1 1067.2,1226.5 1067.6,1221.1 1069.9,1221.1 1070.8,1235.7 1117.9,1235.7" fill="none" stroke="#1C4577" stroke-width="2.3" stroke-linejoin="round"/>
<polyline points="659.3,1226.7 1066.6,1226.7 1067.5,1263.2 1069.0,1226.7 1070.5,1262.9 1117.9,1262.9" fill="none" stroke="#DE8132" stroke-width="2.2" stroke-linejoin="round"/>
<line x1="659.3" y1="1116.9" x2="659.3" y2="1300.4" stroke="#919191" stroke-width="1.5"/>
<line x1="654.8" y1="1299.7" x2="1117.9" y2="1299.7" stroke="#919191" stroke-width="1.5"/>
<line x1="654.8" y1="1116.9" x2="659.3" y2="1116.9" stroke="#9a9a9a" stroke-width="1"/>
<line x1="654.8" y1="1135.2" x2="659.3" y2="1135.2" stroke="#9a9a9a" stroke-width="1"/>
<line x1="654.8" y1="1153.5" x2="659.3" y2="1153.5" stroke="#9a9a9a" stroke-width="1"/>
<line x1="654.8" y1="1171.7" x2="659.3" y2="1171.7" stroke="#9a9a9a" stroke-width="1"/>
<line x1="654.8" y1="1190.0" x2="659.3" y2="1190.0" stroke="#9a9a9a" stroke-width="1"/>
<line x1="654.8" y1="1208.3" x2="659.3" y2="1208.3" stroke="#9a9a9a" stroke-width="1"/>
<line x1="654.8" y1="1226.6" x2="659.3" y2="1226.6" stroke="#9a9a9a" stroke-width="1"/>
<line x1="654.8" y1="1244.9" x2="659.3" y2="1244.9" stroke="#9a9a9a" stroke-width="1"/>
<line x1="654.8" y1="1263.1" x2="659.3" y2="1263.1" stroke="#9a9a9a" stroke-width="1"/>
<line x1="654.8" y1="1281.4" x2="659.3" y2="1281.4" stroke="#9a9a9a" stroke-width="1"/>
<line x1="654.8" y1="1299.7" x2="659.3" y2="1299.7" stroke="#9a9a9a" stroke-width="1"/>
<line x1="659.3" y1="1299.7" x2="659.3" y2="1304.2" stroke="#9a9a9a" stroke-width="1"/>
<line x1="681.9" y1="1299.7" x2="681.9" y2="1304.2" stroke="#9a9a9a" stroke-width="1"/>
<line x1="704.5" y1="1299.7" x2="704.5" y2="1304.2" stroke="#9a9a9a" stroke-width="1"/>
<line x1="727.1" y1="1299.7" x2="727.1" y2="1304.2" stroke="#9a9a9a" stroke-width="1"/>
<line x1="749.7" y1="1299.7" x2="749.7" y2="1304.2" stroke="#9a9a9a" stroke-width="1"/>
<line x1="772.3" y1="1299.7" x2="772.3" y2="1304.2" stroke="#9a9a9a" stroke-width="1"/>
<line x1="794.9" y1="1299.7" x2="794.9" y2="1304.2" stroke="#9a9a9a" stroke-width="1"/>
<line x1="817.5" y1="1299.7" x2="817.5" y2="1304.2" stroke="#9a9a9a" stroke-width="1"/>
<line x1="840.1" y1="1299.7" x2="840.1" y2="1304.2" stroke="#9a9a9a" stroke-width="1"/>
<line x1="862.7" y1="1299.7" x2="862.7" y2="1304.2" stroke="#9a9a9a" stroke-width="1"/>
<line x1="885.3" y1="1299.7" x2="885.3" y2="1304.2" stroke="#9a9a9a" stroke-width="1"/>
<line x1="907.9" y1="1299.7" x2="907.9" y2="1304.2" stroke="#9a9a9a" stroke-width="1"/>
<line x1="930.5" y1="1299.7" x2="930.5" y2="1304.2" stroke="#9a9a9a" stroke-width="1"/>
<line x1="953.1" y1="1299.7" x2="953.1" y2="1304.2" stroke="#9a9a9a" stroke-width="1"/>
<line x1="975.7" y1="1299.7" x2="975.7" y2="1304.2" stroke="#9a9a9a" stroke-width="1"/>
<line x1="998.3" y1="1299.7" x2="998.3" y2="1304.2" stroke="#9a9a9a" stroke-width="1"/>
<line x1="1020.9" y1="1299.7" x2="1020.9" y2="1304.2" stroke="#9a9a9a" stroke-width="1"/>
<line x1="1043.5" y1="1299.7" x2="1043.5" y2="1304.2" stroke="#9a9a9a" stroke-width="1"/>
<line x1="1066.1" y1="1299.7" x2="1066.1" y2="1304.2" stroke="#9a9a9a" stroke-width="1"/>
<line x1="1088.7" y1="1299.7" x2="1088.7" y2="1304.2" stroke="#9a9a9a" stroke-width="1"/>
<line x1="1111.3" y1="1299.7" x2="1111.3" y2="1304.2" stroke="#9a9a9a" stroke-width="1"/>
<line x1="705.4" y1="1095.7" x2="744.9" y2="1095.7" stroke="#C00000" stroke-width="2"/>
<line x1="829.0" y1="1095.7" x2="868.6" y2="1095.7" stroke="#1F497D" stroke-width="2"/>
<line x1="1002.4" y1="1095.7" x2="1041.9" y2="1095.7" stroke="#DE8132" stroke-width="2"/>
</svg>
<div class="abs ftr">
<svg width="1191" height="59" viewBox="0 1625 1191 59">
<defs>
<linearGradient id="starg" x1="0" y1="0" x2="1" y2="1">
<stop offset="0" stop-color="#fff3d6"/><stop offset=".45" stop-color="#fdeccb"/><stop offset=".8" stop-color="#f3d79a"/><stop offset="1" stop-color="#d9a53c"/>
</linearGradient>
<radialGradient id="globeg" cx=".4" cy=".35" r=".7">
<stop offset="0" stop-color="#a9bcd8"/><stop offset=".7" stop-color="#7f9cc4"/><stop offset="1" stop-color="#b7c8df"/>
</radialGradient>
<g id="star">
<path d="M350.6,1636.6 L365,1642.4 L368,1636.2 L370.5,1645 L365.2,1659.2 L354.6,1661 L360.4,1650 Z" fill="#3b2a0c"/>
<path d="M365.4,1658.6 Q369.6,1666 371.6,1675 L374,1681 L376,1675 Q372,1664 369,1657 Z" fill="#b98a22"/>
<path d="M351.8,1636.2 L366.2,1641.1 L369.2,1635.8 L374.3,1647.2 L381.3,1655.7 L376.3,1658.2 Q376.8,1668 376,1675.4 L374.8,1679.6 L373,1674.4 Q372.4,1665 367.4,1657.8 L355.8,1660.2 L362.3,1649.6 Z" fill="url(#starg)"/>
<path d="M363.2,1684 Q363.6,1680.2 371.6,1680 Q379.4,1680.2 379.6,1684 Z" fill="#c99a3a"/>
<path d="M366,1684 Q367,1681.4 372,1681.2 L372,1684 Z" fill="#5a3d10"/>
</g>
<g id="ablogo2">
<polygon points="602.6,10.7 634,62.6 623.8,62.6 597.7,18.1" fill="#2fb34a"/>
<g fill="#e8c21c">
<polygon points="592,27.5 602.4,27.5 597.2,35.9"/>
<polygon points="587,36.3 596.9,36.3 592,44.6"/><polygon points="598.2,36.3 607.7,36.3 602.9,44.6"/>
<polygon points="581.5,45.2 591.4,45.2 586.5,53.7"/><polygon points="592.7,45.2 602.4,45.2 597.6,53.7"/><polygon points="603.6,45.2 613.1,45.2 608.4,53.7"/>
<polygon points="576.2,54.2 586.2,54.2 581.3,62.8"/><polygon points="587.2,54.2 597.1,54.2 592.1,62.8"/><polygon points="598.2,54.2 607.7,54.2 602.9,62.8"/><polygon points="608.8,54.2 618.3,54.2 613.5,62.8"/>
</g>
</g>
<polygon id="bolt" points="440.1,1667.2 436.3,1670.9 438.6,1672.4 448.6,1678.6" fill="#fcc21b"/>
</defs>
<use href="#star"/>
<use href="#star" transform="translate(193.5 0)"/>
<use href="#star" transform="translate(438 0)"/>
<!-- underline -->
<rect x="654" y="1672.9" width="129" height="1" fill="#ffffff"/>
<!-- small logos -->
<use href="#ablogo2" transform="translate(826.5 1656.7) scale(0.326) translate(-576.2 -10.7)"/>
<use href="#ablogo2" transform="translate(1013.6 1657.5) scale(0.33) translate(-576.2 -10.7)"/>
<!-- globe trophy -->
<circle cx="995.3" cy="1642" r="8.2" fill="url(#globeg)" fill-opacity=".95"/>
<path d="M981.2,1643.2 Q987,1648 992,1650.6 L995,1650.6 Q1002,1650 1007.9,1646.8" fill="none" stroke="#d9a928" stroke-width="2.2" stroke-linecap="round"/>
<path d="M991.5,1649 L996,1649 L997,1656 L1000.5,1665.5 L986.8,1665.5 L990.5,1656 Z" fill="#d9a928"/>
<rect x="990.5" y="1665" width="5" height="2.5" fill="#8a6a14"/>
<rect x="982.3" y="1667" width="21.2" height="3.4" fill="#1f1a14"/>
<rect x="982.9" y="1670.3" width="20" height="13.7" fill="#17120e"/>
<rect x="984.4" y="1671.2" width="16.8" height="12.8" fill="#f0a661"/>
<circle cx="990" cy="1676.4" r="2.8" fill="#f3ead8"/><circle cx="990" cy="1676.4" r="1.5" fill="#a3121f"/>
</svg>

<div class="t" id="f1" style="left:28.8px;top:13.2px;font-size:16.6px;letter-spacing:.16px;">Angel Broking Wins Global Marketing</div>
<div class="t" id="f2" style="left:28.4px;top:33.6px;font-size:16.6px;letter-spacing:.05px;">Excellence Awards Across 90 Countries</div>
<div class="t gold" id="g1" style="left:388.2px;top:8.55px;font-size:21.2px;transform:scaleX(.562);">LAUNCH OF THE YEAR</div>
<div class="t gold" id="g2" style="left:581px;top:8.55px;font-size:21.2px;transform:scaleX(.548);">TECHNOLOGY EFFECTIVENESS</div>
<div class="t gold" id="g3" style="left:825.6px;top:8.55px;font-size:21.2px;transform:scaleX(.5727);">BEST TRADING APP</div>
<div class="t gold" id="g4" style="left:1014.2px;top:8.55px;font-size:21.2px;transform:scaleX(.5927);">MASTER BRAND 2016</div>
<div class="arq" id="q1" style="-webkit-text-stroke:1.8px #fff;left:388.1px;top:29.25px;transform:scale(0.3846);"><span style="left:0;transform:scaleX(1.114);">A</span><span style="left:53.8px;transform:scaleX(.923);">R</span><span style="left:103.8px;transform:scaleX(.957);">Q</span><svg width="170" height="80" viewBox="0 0 170 80"><polygon points="21.3,34.8 33.1,34.8 37.9,48 17.1,48" fill="#0e4177"/><rect x="122" y="58.3" width="30" height="15" fill="#0e4177"/><polygon points="135.9,33.7 126.2,43.4 131.9,47.1 155.4,62" fill="#fcc21b"/></svg></div>
<div class="arq" id="q2" style="-webkit-text-stroke:1.8px #fff;left:581.7px;top:29.25px;transform:scale(0.3846);"><span style="left:0;transform:scaleX(1.114);">A</span><span style="left:53.8px;transform:scaleX(.923);">R</span><span style="left:103.8px;transform:scaleX(.957);">Q</span><svg width="170" height="80" viewBox="0 0 170 80"><polygon points="21.3,34.8 33.1,34.8 37.9,48 17.1,48" fill="#0e4177"/><rect x="122" y="58.3" width="30" height="15" fill="#0e4177"/><polygon points="135.9,33.7 126.2,43.4 131.9,47.1 155.4,62" fill="#fcc21b"/></svg></div>
<div class="t" id="a1" style="left:849.2px;top:39.2px;font-size:13px;transform:scaleX(.925);">Angel Broking <b>App</b></div>
<div class="t" id="a2" style="left:1036.4px;top:39.5px;font-size:13px;transform:scaleX(.92);">Angel Broking</div>
</div>
</body>
</html>
